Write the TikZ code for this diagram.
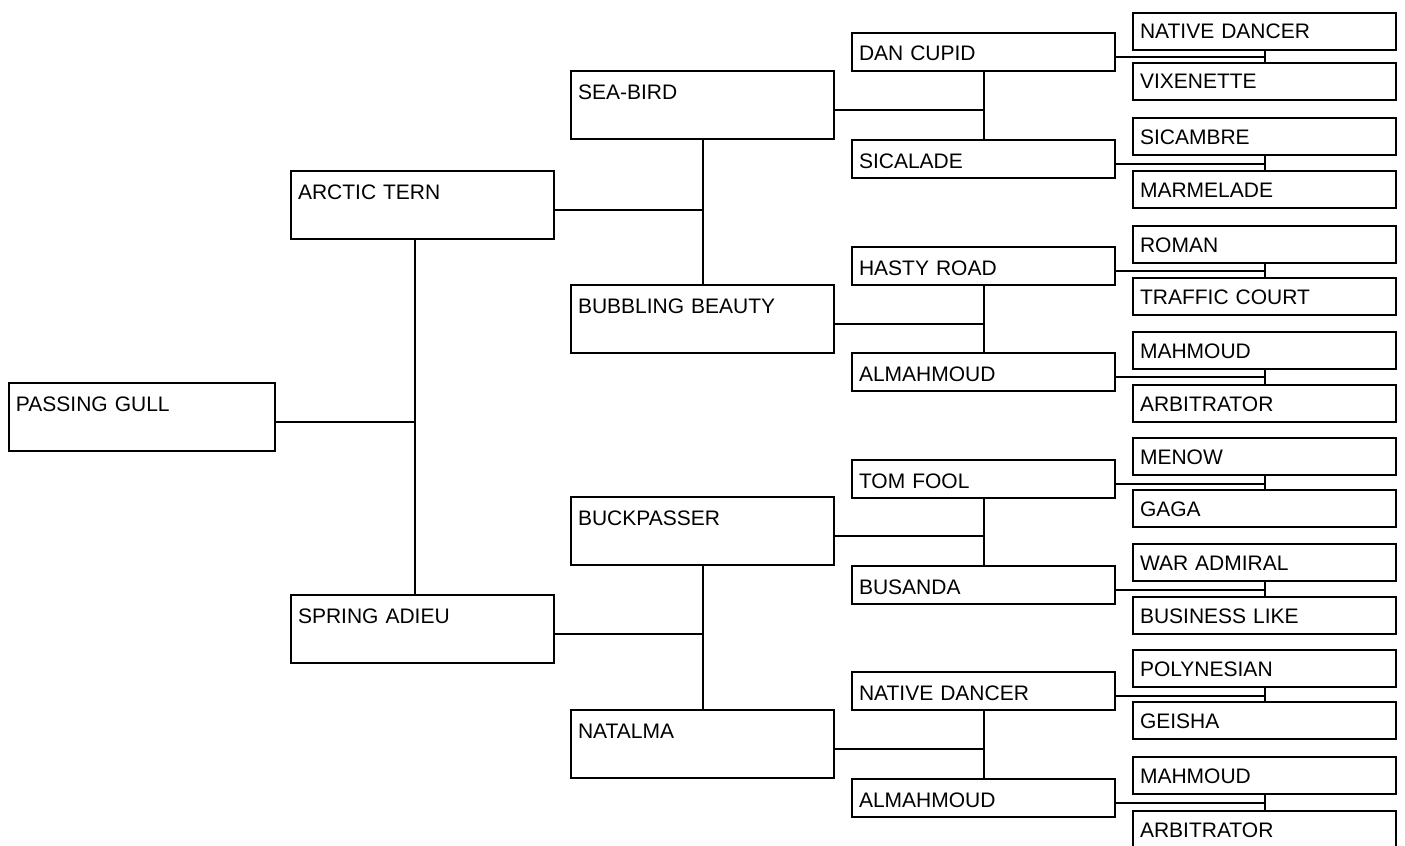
\documentclass[tikz,border=0pt]{standalone}
\usepackage{fontspec}
\setmainfont{Liberation Sans}
\usepackage{tikz}

\tikzset{
  box/.style={draw, line width=1pt, rectangle, anchor=north west, align=left,
    inner xsep=3.5pt, inner ysep=0pt, text width=124.5pt,
    font=\fontsize{10.5}{12}\selectfont},
  tallbox/.style={box, text height=14pt, text depth=20pt},
  midbox/.style={box, text height=14pt, text depth=5pt},
  smallbox/.style={box, text height=13pt, text depth=5.5pt},
  link/.style={line width=1pt}
}

\begin{document}
\begin{tikzpicture}[x=0.5pt, y=-0.5pt]
	\useasboundingbox (0,0) rectangle (1405,846);
	% horse itself
	\node[tallbox, text width=126pt] (pg) at (8,382) {PASSING GULL};
	% parents
	\node[tallbox] (at) at (290,170) {ARCTIC TERN};
	\node[tallbox] (sa) at (290,594) {SPRING ADIEU};
	% grandparents
	\node[tallbox] (sb) at (570,70) {SEA-BIRD};
	\node[tallbox] (bb) at (570,284) {BUBBLING BEAUTY};
	\node[tallbox] (bp) at (570,496) {BUCKPASSER};
	\node[tallbox] (na) at (570,709) {NATALMA};
	% great-grandparents
	\node[midbox] (dc) at (851,32) {DAN CUPID};
	\node[midbox] (si) at (851,139) {SICALADE};
	\node[midbox] (hr) at (851,246) {HASTY ROAD};
	\node[midbox] (am) at (851,352) {ALMAHMOUD};
	\node[midbox] (tf) at (851,459) {TOM FOOL};
	\node[midbox] (bu) at (851,565) {BUSANDA};
	\node[midbox] (nd) at (851,671) {NATIVE DANCER};
	\node[midbox] (amb) at (851,778) {ALMAHMOUD};
	% great-great-grandparents
	\node[smallbox] (ndb) at (1132,12) {NATIVE DANCER};
	\node[smallbox] (vx) at (1132,62) {VIXENETTE};
	\node[smallbox] (sc) at (1132,117) {SICAMBRE};
	\node[smallbox] (mm) at (1132,170) {MARMELADE};
	\node[smallbox] (ro) at (1132,225) {ROMAN};
	\node[smallbox] (tc) at (1132,277) {TRAFFIC COURT};
	\node[smallbox] (mh) at (1132,331) {MAHMOUD};
	\node[smallbox] (ar) at (1132,384) {ARBITRATOR};
	\node[smallbox] (me) at (1132,437) {MENOW};
	\node[smallbox] (ga) at (1132,489) {GAGA};
	\node[smallbox] (wa) at (1132,543) {WAR ADMIRAL};
	\node[smallbox] (bl) at (1132,596) {BUSINESS LIKE};
	\node[smallbox] (po) at (1132,649) {POLYNESIAN};
	\node[smallbox] (ge) at (1132,701) {GEISHA};
	\node[smallbox] (mhb) at (1132,756) {MAHMOUD};
	\node[smallbox] (arb) at (1132,810) {ARBITRATOR};
	% lines to parents
	\draw[link] ([yshift=-2.5pt]pg.east) -| ([xshift=-3.75pt]at.south);
	\draw[link] ([xshift=-3.75pt]at.south) -- ([xshift=-3.75pt]sa.north);
	% lines to grandparents
	\draw[link] ([yshift=-2.5pt]at.east) -| (sb.south);
	\draw[link] (sb.south) -- (bb.north);
	\draw[link] ([yshift=-2.5pt]sa.east) -| (bp.south);
	\draw[link] (bp.south) -- (na.north);
	% lines to great-grandparents
	\draw[link] ([yshift=-2.5pt]sb.east) -| (dc.south);
	\draw[link] (dc.south) -- (si.north);
	\draw[link] ([yshift=-2.5pt]bb.east) -| (hr.south);
	\draw[link] (hr.south) -- (am.north);
	\draw[link] ([yshift=-2.5pt]bp.east) -| (tf.south);
	\draw[link] (tf.south) -- (bu.north);
	\draw[link] ([yshift=-2.5pt]na.east) -| (nd.south);
	\draw[link] (nd.south) -- (amb.north);
	% lines to great-great-grandparents
	\draw[link] ([yshift=-2.5pt]dc.east) -| (ndb.south);
	\draw[link] (ndb.south) -- (vx.north);
	\draw[link] ([yshift=-2.5pt]si.east) -| (sc.south);
	\draw[link] (sc.south) -- (mm.north);
	\draw[link] ([yshift=-2.5pt]hr.east) -| (ro.south);
	\draw[link] (ro.south) -- (tc.north);
	\draw[link] ([yshift=-2.5pt]am.east) -| (mh.south);
	\draw[link] (mh.south) -- (ar.north);
	\draw[link] ([yshift=-2.5pt]tf.east) -| (me.south);
	\draw[link] (me.south) -- (ga.north);
	\draw[link] ([yshift=-2.5pt]bu.east) -| (wa.south);
	\draw[link] (wa.south) -- (bl.north);
	\draw[link] ([yshift=-2.5pt]nd.east) -| (po.south);
	\draw[link] (po.south) -- (ge.north);
	\draw[link] ([yshift=-2.5pt]amb.east) -| (mhb.south);
	\draw[link] (mhb.south) -- (arb.north);
\end{tikzpicture}
\end{document}
